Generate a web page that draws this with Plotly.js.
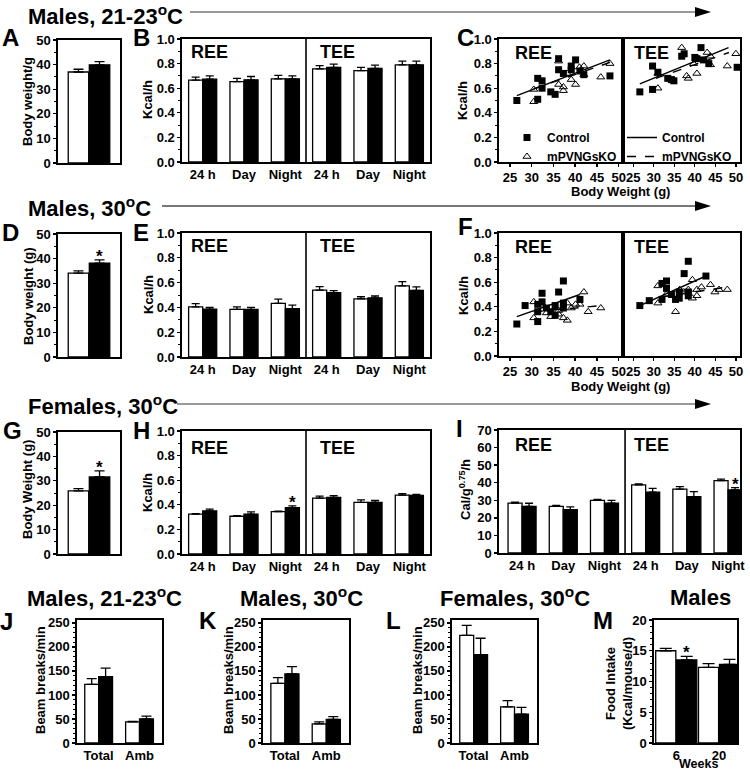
<!DOCTYPE html>
<html><head><meta charset="utf-8">
<script src="https://cdn.plot.ly/plotly-3.0.1.min.js"></script>
<style>html,body{margin:0;padding:0;background:#fff}#chart{width:750px;height:771px}</style>
</head><body><div id="chart"></div><script>
// ---------------- DATA ----------------
const groupNames = ['Control', 'mPVNGsKO'];
const eeCats = ['24 h', 'Day', 'Night', '24 h', 'Day', 'Night'];
const activityCats = ['Total', 'Amb'];
const weekCats = ['6', '20'];

// Body weight (A, D, G): [Control, mPVNGsKO]
const bwA = [37.0, 39.9], bwAErr = [1.1, 1.3];
const bwD = [34.1, 38.1], bwDErr = [0.9, 1.4];
const bwG = [25.9, 31.6], bwGErr = [0.9, 2.5];

// Energy expenditure B (Males 21-23C), Kcal/h
const eeBCtrl = [0.665, 0.654, 0.676, 0.757, 0.743, 0.790], eeBCtrlErr = [0.025, 0.026, 0.029, 0.027, 0.027, 0.030];
const eeBKo   = [0.673, 0.668, 0.676, 0.770, 0.760, 0.790], eeBKoErr   = [0.027, 0.027, 0.024, 0.025, 0.028, 0.030];
// E (Males 30C)
const eeECtrl = [0.405, 0.384, 0.432, 0.540, 0.468, 0.573], eeECtrlErr = [0.025, 0.020, 0.035, 0.028, 0.018, 0.035];
const eeEKo   = [0.386, 0.384, 0.389, 0.519, 0.477, 0.538], eeEKoErr   = [0.014, 0.016, 0.030, 0.016, 0.015, 0.027];
// H (Females 30C)
const eeHCtrl = [0.325, 0.307, 0.344, 0.455, 0.420, 0.478], eeHCtrlErr = [0.004, 0.004, 0.005, 0.015, 0.020, 0.013];
const eeHKo   = [0.350, 0.325, 0.376, 0.461, 0.420, 0.476], eeHKoErr   = [0.015, 0.017, 0.015, 0.013, 0.015, 0.009];
// I (Females 30C, Cal/g^0.75/h)
const eeICtrl = [28.4, 26.5, 29.9, 38.8, 36.3, 41.2], eeICtrlErr = [0.5, 0.6, 0.6, 0.5, 1.5, 0.8];
const eeIKo   = [26.5, 24.6, 28.4, 34.6, 32.1, 35.9], eeIKoErr   = [1.8, 1.6, 1.6, 2.2, 2.8, 1.3];

// Activity J, K, L (beam breaks/min): [Total, Amb]
const actJCtrl = [122, 44], actJCtrlErr = [12, 1], actJKo = [138, 50], actJKoErr = [18, 6];
const actKCtrl = [124, 40], actKCtrlErr = [12, 4], actKKo = [144, 49], actKKoErr = [15, 6];
const actLCtrl = [224, 75], actLCtrlErr = [21, 13], actLKo = [184, 60], actLKoErr = [34, 14];
// Food intake M: [6 wk, 20 wk]
const foodCtrl = [15.0, 12.3], foodCtrlErr = [0.4, 0.6], foodKo = [13.5, 12.8], foodKoErr = [0.6, 0.8];

// Significance markers (index into KO series)
const starD = [0], starG = [0], starH = [2], starI = [5], starM = [0];

// Scatter C (Males 21-23C): body weight (g) vs Kcal/h
const cReeCtrlX = [26.6, 31.4, 32.4, 31.4, 32.4, 34.4, 35.4, 36.2, 36.2, 37.3, 39.1, 39.1, 40.1, 41.1, 42.0, 48.0];
const cReeCtrlY = [0.50, 0.68, 0.66, 0.51, 0.60, 0.57, 0.55, 0.84, 0.75, 0.72, 0.78, 0.75, 0.83, 0.74, 0.71, 0.70];
const cReeKoX = [30.5, 30.5, 36.2, 36.2, 37.3, 37.3, 38.2, 39.1, 40.1, 41.0, 42.0, 42.0, 45.9, 48.0];
const cReeKoY = [0.49, 0.59, 0.82, 0.63, 0.61, 0.58, 0.72, 0.67, 0.63, 0.77, 0.78, 0.71, 0.69, 0.80];
const cTeeCtrlX = [26.6, 29.7, 29.7, 31.0, 33.4, 34.3, 34.9, 36.8, 37.4, 40.0, 40.5, 41.5, 42.1, 43.4, 50.3];
const cTeeCtrlY = [0.57, 0.78, 0.59, 0.73, 0.68, 0.67, 0.66, 0.86, 0.88, 0.85, 0.84, 0.93, 0.83, 0.80, 0.77];
const cTeeKoX = [31.0, 31.0, 36.8, 38.0, 38.4, 39.7, 40.5, 43.0, 43.8, 43.8, 47.9, 50.0];
const cTeeKoY = [0.72, 0.60, 0.93, 0.70, 0.68, 0.80, 0.72, 0.89, 0.86, 0.79, 0.78, 0.88];
// Regression lines C (end points)
const cReeCtrlFitX = [26.6, 48.0], cReeCtrlFitY = [0.54, 0.83];
const cReeKoFitX = [30.5, 48.0],   cReeKoFitY = [0.595, 0.81];
const cTeeCtrlFitX = [26.6, 48.2], cTeeCtrlFitY = [0.635, 0.93];
const cTeeKoFitX = [30.5, 48.3],   cTeeKoFitY = [0.68, 0.89];

// Scatter F (Males 30C)
const fReeCtrlX = [26.6, 28.5, 31.4, 31.4, 32.4, 32.4, 31.4, 33.4, 34.4, 35.4, 35.4, 36.2, 37.3, 37.3, 37.3, 41.1];
const fReeCtrlY = [0.26, 0.41, 0.28, 0.42, 0.51, 0.44, 0.36, 0.39, 0.36, 0.33, 0.41, 0.52, 0.61, 0.39, 0.43, 0.46];
const fReeKoX = [30.5, 30.5, 32.4, 33.4, 34.4, 36.2, 37.3, 38.2, 38.2, 39.1, 40.1, 41.1, 42.0, 43.0, 45.9, 36.2];
const fReeKoY = [0.31, 0.44, 0.42, 0.35, 0.32, 0.34, 0.31, 0.29, 0.43, 0.39, 0.42, 0.42, 0.52, 0.36, 0.39, 0.37];
const fTeeCtrlX = [26.6, 28.9, 32.0, 32.0, 33.1, 33.1, 34.3, 35.3, 36.2, 36.2, 37.4, 38.4, 38.4, 38.4, 42.7];
const fTeeCtrlY = [0.41, 0.45, 0.46, 0.59, 0.61, 0.55, 0.50, 0.46, 0.52, 0.47, 0.67, 0.77, 0.49, 0.52, 0.65];
const fTeeKoX = [31.0, 31.0, 33.0, 35.3, 36.3, 37.3, 38.4, 39.4, 39.4, 40.5, 40.5, 41.6, 43.8, 44.9, 45.9, 47.9];
const fTeeKoY = [0.57, 0.43, 0.50, 0.36, 0.54, 0.52, 0.54, 0.62, 0.47, 0.49, 0.54, 0.56, 0.58, 0.52, 0.54, 0.54];
const fReeCtrlFitX = [26.6, 41.1], fReeCtrlFitY = [0.32, 0.50];
const fReeKoFitX = [30.5, 46.2],   fReeKoFitY = [0.36, 0.41];
const fTeeCtrlFitX = [26.6, 42.7], fTeeCtrlFitY = [0.41, 0.65];
const fTeeKoFitX = [31.5, 47.9],   fTeeKoFitY = [0.48, 0.56];

// ---------------- LAYOUT HELPERS ----------------
const F = 'Liberation Sans, Arial, Helvetica, sans-serif';
const W = 750, H = 771;
const px = v => v / W, py = v => 1 - v / H;
const xd = (a, b) => [a / W, b / W];
const yd = (t, b) => [1 - b / H, 1 - t / H];
const tickfont = {family: F, size: 13, color: '#000', weight: 'bold'};
const sfx = i => (i === 1 ? '' : String(i));
const legFont = {family: F, size: 12, color: '#000', weight: 'bold'};

const layout = {
  width: W, height: H, margin: {l: 0, r: 0, t: 0, b: 0},
  paper_bgcolor: '#fff', plot_bgcolor: 'rgba(0,0,0,0)', barmode: 'overlay',
  font: {family: F, size: 13, color: '#000', weight: 'bold'},
  annotations: [], shapes: [], showlegend: true,
  legend: {x: px(507), y: py(123), xanchor: 'left', yanchor: 'top', bgcolor: 'rgba(0,0,0,0)', borderwidth: 0,
           font: legFont, itemwidth: 30, tracegroupgap: 0},
  legend2: {x: px(622), y: py(123), xanchor: 'left', yanchor: 'top', bgcolor: 'rgba(0,0,0,0)', borderwidth: 0,
           font: legFont, itemwidth: 30, tracegroupgap: 0}
};

function axes(i, xdomain, ydomain, xo, yo) {
  const s = sfx(i);
  layout['xaxis' + s] = Object.assign({domain: xdomain, anchor: 'y' + s, showline: true, mirror: true, linecolor: '#000',
    linewidth: 1.6, showgrid: false, zeroline: false, ticks: '', tickfont: tickfont, fixedrange: true}, xo);
  layout['yaxis' + s] = Object.assign({domain: ydomain, anchor: 'x' + s, showline: true, mirror: true, linecolor: '#000',
    linewidth: 1.6, showgrid: false, zeroline: false, ticks: 'outside', ticklen: 3, tickwidth: 1.3, tickcolor: '#000',
    tickfont: tickfont, fixedrange: true}, yo);
}
const minor = d => ({ticks: 'outside', dtick: d, ticklen: 2, tickwidth: 1, tickcolor: '#000', showgrid: false});

const traces = [];
function barPair(i, ctrl, ctrlErr, ko, koErr, half, width, capW, stars) {
  const s = sfx(i);
  const pos = ctrl.map((_, k) => k);
  const zeros = ctrlErr.map(() => 0);
  traces.push({type: 'bar', name: groupNames[0], x: pos.map(p => p - half), y: ctrl, width: width,
    marker: {color: '#fff', line: {color: '#000', width: 1.3}},
    error_y: {type: 'data', array: ctrlErr, arrayminus: zeros, symmetric: false, color: '#000', thickness: 1.3, width: capW},
    xaxis: 'x' + s, yaxis: 'y' + s, showlegend: false, hoverinfo: 'skip'});
  traces.push({type: 'bar', name: groupNames[1], x: pos.map(p => p + half), y: ko, width: width,
    marker: {color: '#000', line: {color: '#000', width: 1.3}},
    error_y: {type: 'data', array: koErr, arrayminus: zeros, symmetric: false, color: '#000', thickness: 1.3, width: capW},
    xaxis: 'x' + s, yaxis: 'y' + s, showlegend: false, hoverinfo: 'skip'});
  (stars || []).forEach(k => layout.annotations.push({text: '*', xref: 'x' + s, yref: 'y' + s, x: k + half, y: ko[k] + koErr[k],
    yanchor: 'bottom', yshift: -8, showarrow: false, font: {family: F, size: 17, color: '#000', weight: 'bold'}}));
}
function scat(i, x, y, kind, legendName, legendId) {
  const s = sfx(i);
  const t = {type: 'scatter', x: x, y: y, xaxis: 'x' + s, yaxis: 'y' + s, hoverinfo: 'skip'};
  if (kind === 'sq') Object.assign(t, {mode: 'markers', marker: {symbol: 'square', size: 7, color: '#000'}});
  if (kind === 'tri') Object.assign(t, {mode: 'markers', marker: {symbol: 'triangle-up-open', size: 7, color: '#000', line: {width: 1, color: '#000'}}});
  if (kind === 'solid') Object.assign(t, {mode: 'lines', line: {color: '#000', width: 1.5}});
  if (kind === 'dash') Object.assign(t, {mode: 'lines', line: {color: '#000', width: 1.5, dash: 'dash'}});
  if (legendName) { t.name = legendName; t.showlegend = true; t.legend = legendId; } else { t.showlegend = false; }
  traces.push(t);
}
function txt(t, x, y, size, o) {
  layout.annotations.push(Object.assign({text: t, x: px(x), y: py(y), xref: 'paper', yref: 'paper', showarrow: false,
    xanchor: 'center', yanchor: 'middle', font: {family: F, size: size, color: '#000', weight: 'bold'}}, o || {}));
}
function vtitle(t, x, y) { txt(t, x, y, 13, {textangle: -90}); }
function divider(i) {
  const s = sfx(i);
  layout.shapes.push({type: 'line', xref: 'x' + s, yref: 'y' + s + ' domain', x0: 2.5, x1: 2.5, y0: 0, y1: 1, line: {color: '#000', width: 1.6}});
}
function arrow(x0, x1, y, color, w) {
  layout.shapes.push({type: 'line', xref: 'paper', yref: 'paper', x0: px(x0), x1: px(x1 - 8), y0: py(y), y1: py(y), line: {color: color, width: w}});
  layout.shapes.push({type: 'path', xref: 'paper', yref: 'paper',
    path: `M ${px(x1 - 15)} ${py(y - 5)} L ${px(x1 + 1)} ${py(y)} L ${px(x1 - 15)} ${py(y + 5)} Z`,
    fillcolor: '#000', line: {color: '#000', width: 0}});
}

// --------------- BODY WEIGHT PANELS ---------------
const bwY = {range: [0, 50], dtick: 10, tick0: 0, minor: minor(5)};
const bwX = {range: [-1, 1], showticklabels: false};
axes(1, xd(58, 120), yd(40, 163), bwX, bwY);
axes(5, xd(58, 120), yd(234, 357), bwX, bwY);
axes(9, xd(58, 120), yd(432, 554), bwX, bwY);
barPair(1, [bwA[0]], [bwAErr[0]], [bwA[1]], [bwAErr[1]], 0.34, 0.66, 5, []);
barPair(5, [bwD[0]], [bwDErr[0]], [bwD[1]], [bwDErr[1]], 0.34, 0.66, 5, starD);
barPair(9, [bwG[0]], [bwGErr[0]], [bwG[1]], [bwGErr[1]], 0.34, 0.66, 5, starG);

// --------------- ENERGY EXPENDITURE BARS ---------------
const eeX = {range: [-0.5, 5.5], tickvals: [0, 1, 2, 3, 4, 5], ticktext: eeCats};
const kcalY = {range: [0, 1], dtick: 0.2, tick0: 0, tickformat: '.1f', minor: minor(0.1)};
axes(2, xd(182, 430), yd(39, 162), eeX, kcalY);
axes(6, xd(182, 430), yd(233, 357), eeX, kcalY);
axes(10, xd(182, 430), yd(431, 554), eeX, kcalY);
axes(11, xd(499, 740), yd(430, 553), Object.assign({}, eeX, {range: [-0.56, 5.29]}), {range: [0, 70], dtick: 10, tick0: 0});
barPair(2, eeBCtrl, eeBCtrlErr, eeBKo, eeBKoErr, 0.17, 0.34, 4, []);
barPair(6, eeECtrl, eeECtrlErr, eeEKo, eeEKoErr, 0.17, 0.34, 4, []);
barPair(10, eeHCtrl, eeHCtrlErr, eeHKo, eeHKoErr, 0.17, 0.34, 4, starH);
barPair(11, eeICtrl, eeICtrlErr, eeIKo, eeIKoErr, 0.17, 0.34, 4, starI);
[2, 6, 10, 11].forEach(divider);

// --------------- SCATTER PANELS ---------------
const bwXs = {range: [22.5, 51], dtick: 5, tick0: 25, ticks: 'outside', ticklen: 3, tickwidth: 1.3, tickcolor: '#000'};
const scY = {range: [0, 1.0], dtick: 0.2, tick0: 0, tickformat: '.1f', minor: minor(0.1)};
const scY2 = {range: [0, 1.0], showticklabels: false, ticks: ''};
axes(3, xd(499, 623), yd(39, 162), bwXs, scY);
axes(4, xd(623, 740), yd(39, 162), bwXs, scY2);
axes(7, xd(499, 623), yd(233, 356), bwXs, scY);
axes(8, xd(623, 740), yd(233, 356), bwXs, scY2);

scat(3, cReeCtrlX, cReeCtrlY, 'sq', groupNames[0], 'legend');
scat(3, cReeKoX, cReeKoY, 'tri', groupNames[1], 'legend');
scat(3, cReeCtrlFitX, cReeCtrlFitY, 'solid');
scat(3, cReeKoFitX, cReeKoFitY, 'dash');
scat(4, cTeeCtrlX, cTeeCtrlY, 'sq');
scat(4, cTeeKoX, cTeeKoY, 'tri');
scat(4, cTeeCtrlFitX, cTeeCtrlFitY, 'solid', groupNames[0], 'legend2');
scat(4, cTeeKoFitX, cTeeKoFitY, 'dash', groupNames[1], 'legend2');

scat(7, fReeCtrlX, fReeCtrlY, 'sq');
scat(7, fReeKoX, fReeKoY, 'tri');
scat(7, fReeCtrlFitX, fReeCtrlFitY, 'solid');
scat(7, fReeKoFitX, fReeKoFitY, 'dash');
scat(8, fTeeCtrlX, fTeeCtrlY, 'sq');
scat(8, fTeeKoX, fTeeKoY, 'tri');
scat(8, fTeeCtrlFitX, fTeeCtrlFitY, 'solid');
scat(8, fTeeKoFitX, fTeeKoFitY, 'dash');

// --------------- ACTIVITY + FOOD ---------------
const actX = {range: [-0.53, 1.55], tickvals: [0, 1], ticktext: activityCats};
const actY = {range: [0, 256], dtick: 50, tick0: 0, minor: minor(10)};
axes(12, xd(77, 162), yd(620, 743), actX, actY);
axes(13, xd(263, 349), yd(620, 743), actX, actY);
axes(14, xd(452, 537), yd(620, 743), actX, actY);
axes(15, xd(654, 737), yd(620, 743), {range: [-0.52, 1.42], tickvals: [0, 1], ticktext: weekCats},
     {range: [0, 20], dtick: 5, tick0: 0, minor: minor(1)});
barPair(12, actJCtrl, actJCtrlErr, actJKo, actJKoErr, 0.17, 0.34, 5, []);
barPair(13, actKCtrl, actKCtrlErr, actKKo, actKKoErr, 0.17, 0.34, 5, []);
barPair(14, actLCtrl, actLCtrlErr, actLKo, actLKoErr, 0.17, 0.34, 5, []);
barPair(15, foodCtrl, foodCtrlErr, foodKo, foodKoErr, 0.245, 0.47, 6, starM);

// --------------- TEXT ---------------
txt('Males, 21-23<sup>o</sup>C', 26, 15, 22, {xanchor: 'left'});
txt('Males, 30<sup>o</sup>C', 26, 207, 22, {xanchor: 'left'});
txt('Females, 30<sup>o</sup>C', 26, 405, 22, {xanchor: 'left'});
arrow(190, 710, 12, '#333', 1.2);
arrow(162, 710, 206, '#777', 1.8);
arrow(177, 710, 404, '#333', 1.2);

[['A', 10, 37], ['B', 141, 37], ['C', 465, 37], ['D', 10, 232], ['E', 141, 232], ['F', 465, 226],
 ['G', 12, 430], ['H', 141, 430], ['I', 460, 428], ['J', 6, 621], ['K', 208, 620], ['L', 393, 620], ['M', 603, 620]]
  .forEach(d => txt(d[0], d[1], d[2], 24));

// REE / TEE labels
[[209, 52], [209, 246], [209, 448]].forEach(p => txt('REE', p[0], p[1], 18));
[[337, 52], [337, 246], [337, 448]].forEach(p => txt('TEE', p[0], p[1], 18));
[[533, 53], [533, 247], [533, 445]].forEach(p => txt('REE', p[0], p[1], 18));
[[651, 53], [651, 247], [651, 445]].forEach(p => txt('TEE', p[0], p[1], 18));

// axis titles
vtitle('Body weight/g', 28, 102);
vtitle('Body weight (g)', 28, 296);
vtitle('Body Weight (g)', 28, 490);
vtitle('Kcal/h', 148, 100); vtitle('Kcal/h', 148, 295); vtitle('Kcal/h', 148, 493);
vtitle('Kcal/h', 463, 100); vtitle('Kcal/h', 463, 295);
vtitle('Cal/g<sup>0.75</sup>/h', 465, 490);
txt('Body Weight (g)', 620, 191, 13);
txt('Body Weight (g)', 620, 386, 13);
vtitle('Beam breaks/min', 40, 680); vtitle('Beam breaks/min', 228, 680); vtitle('Beam breaks/min', 417, 680);
vtitle('Food Intake<br>(Kcal/mouse/d)', 619, 684);
txt('Weeks', 698, 772, 12.5, {yanchor: 'bottom', borderpad: 0});

// bottom-row titles
txt('Males, 21-23<sup>o</sup>C', 104, 597, 22);
txt('Males, 30<sup>o</sup>C', 301, 597, 22);
txt('Females, 30<sup>o</sup>C', 515, 597, 22);
txt('Males', 700, 597, 22);

Plotly.newPlot('chart', traces, layout, {staticPlot: true, displayModeBar: false});
</script></body></html>
